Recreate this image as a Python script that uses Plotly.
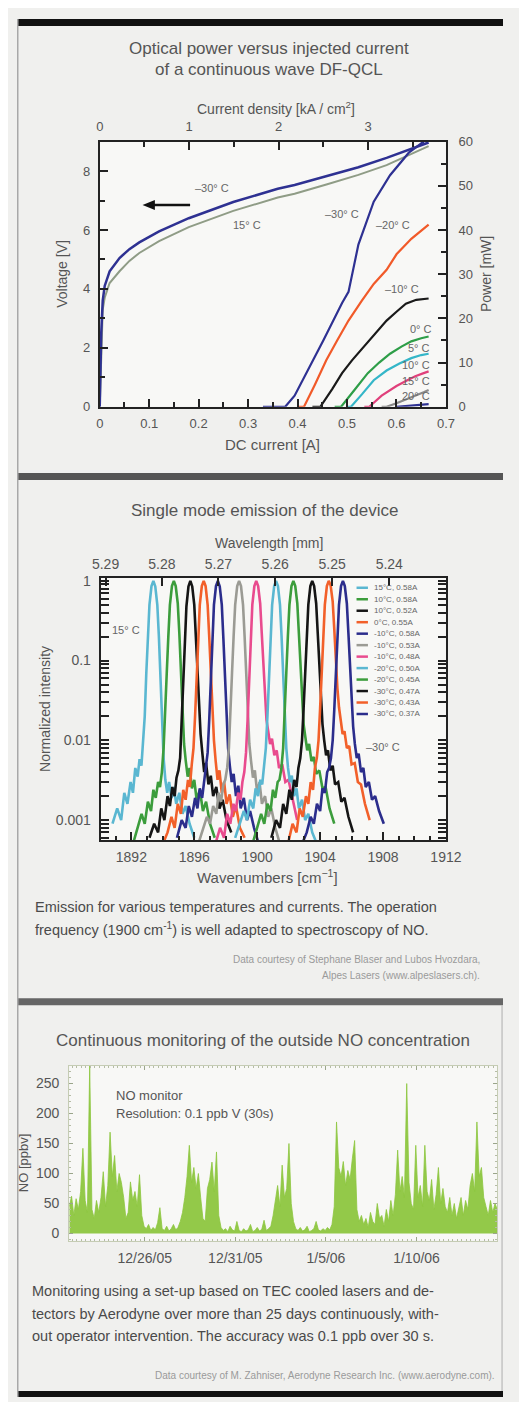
import plotly.graph_objects as go
import pandas as pd

# The page adds an 8 px body margin around the figure; the figure is sized so the
# whole page is 527 x 1410 and all layout positions below are page pixels.
PAGE_OFF = 8
W, H = 527 - 2 * PAGE_OFF, 1410 - 2 * PAGE_OFF
FONT = "Liberation Sans, Arial, Helvetica, sans-serif"
TXT = "#555555"


def px(x):
    return (x - PAGE_OFF) / W


def py(y):
    return 1 - (y - PAGE_OFF) / H


# ---------------- Panel 1 : L-I-V ----------------
iv_current = [0, 0.003, 0.006, 0.01, 0.02, 0.04, 0.06, 0.08, 0.12, 0.18, 0.27, 0.36, 0.394, 0.46, 0.523, 0.58, 0.62, 0.65, 0.665]
iv_volt_m30 = [0, 2.5, 3.6, 4.1, 4.6, 5.05, 5.35, 5.58, 5.95, 6.4, 6.95, 7.4, 7.53, 7.85, 8.13, 8.45, 8.7, 8.9, 8.97]
iv_volt_p15 = [0, 2.2, 3.3, 3.7, 4.2, 4.6, 4.95, 5.22, 5.62, 6.1, 6.65, 7.1, 7.23, 7.55, 7.87, 8.2, 8.5, 8.75, 8.85]

p_m30_I = [0.33, 0.375, 0.394, 0.42, 0.452, 0.49, 0.503, 0.523, 0.554, 0.587, 0.625, 0.655]
p_m30_P = [0, 0, 2.5, 8, 15, 23.5, 26, 36.7, 46.4, 52.4, 57.5, 60]
p_m20_I = [0.40, 0.413, 0.435, 0.458, 0.48, 0.503, 0.53, 0.554, 0.58, 0.60, 0.63, 0.665]
p_m20_P = [0, 0, 5, 10.5, 15, 19.5, 24, 27.8, 31, 34.5, 38, 41.2]
p_m10_I = [0.43, 0.446, 0.47, 0.49, 0.51, 0.535, 0.56, 0.58, 0.60, 0.619, 0.64, 0.665]
p_m10_P = [0, 0, 4, 7.6, 10.5, 13.7, 17, 19.5, 21.5, 23.3, 24.2, 24.5]
p_0_I = [0.475, 0.488, 0.515, 0.542, 0.565, 0.587, 0.61, 0.63, 0.65, 0.665]
p_0_P = [0, 0, 3.8, 7.6, 10, 12, 13.6, 14.8, 15.5, 15.9]
p_5_I = [0.50, 0.508, 0.53, 0.554, 0.58, 0.606, 0.63, 0.65, 0.665]
p_5_P = [0, 0, 2.8, 6, 8.2, 9.8, 11, 11.7, 12]
p_10_I = [0.535, 0.545, 0.57, 0.60, 0.62, 0.638, 0.655, 0.665]
p_10_P = [0, 0, 2.5, 4.7, 5.9, 6.9, 7.6, 8]
p_15_I = [0.57, 0.58, 0.60, 0.619, 0.64, 0.655, 0.665]
p_15_P = [0, 0, 0.8, 1.6, 2.6, 3.3, 3.8]
p_20_I = [0.60, 0.62, 0.64, 0.655, 0.665]
p_20_P = [0, 0.2, 0.4, 0.6, 0.6]

J_PER_A = 5.53  # kA/cm^2 per A (top axis scale)

# ---------------- Panel 2 : spectra ----------------
wl_ticks = [5.29, 5.28, 5.27, 5.26, 5.25, 5.24]
spec_offsets = [-2.6, -2.3, -2.05, -1.85, -1.65, -1.45, -1.3, -1.15, -1.0, -0.88, -0.76, -0.65, -0.55, -0.45,
                -0.35, -0.25, -0.12, 0, 0.12, 0.25, 0.35, 0.45, 0.55, 0.65, 0.76, 0.88, 1.0, 1.15, 1.3, 1.45,
                1.65, 1.85, 2.05, 2.3, 2.6]
spec_centers = [1893.4, 1894.7, 1895.75, 1896.6, 1897.5, 1898.85, 1899.94, 1901.2, 1902.3, 1903.5, 1904.55, 1905.45]
spec_labels = ["15°C, 0.58A", "10°C, 0.58A", "10°C, 0.52A", "0°C, 0.55A", "-10°C, 0.58A", "-10°C, 0.53A",
               "-10°C, 0.48A", "-20°C, 0.50A", "-20°C, 0.45A", "-30°C, 0.47A", "-30°C, 0.43A", "-30°C, 0.37A"]
s01 = [0.0009, 0.0014, 0.001, 0.0022, 0.0016, 0.003, 0.0022, 0.0045, 0.0035, 0.0058, 0.0048, 0.009, 0.02, 0.07, 0.2, 0.5, 0.86, 1,
       0.85, 0.5, 0.2, 0.07, 0.02, 0.006, 0.0032, 0.0022, 0.003, 0.0019, 0.0026, 0.0016, 0.0022, 0.0012, 0.0015, 0.0009, 0.0006]
s02 = [0.0005, 0.0008, 0.0012, 0.0009, 0.0017, 0.0013, 0.0024, 0.0019, 0.003, 0.0026, 0.004, 0.008, 0.02, 0.07, 0.2, 0.5, 0.86, 1,
       0.86, 0.52, 0.22, 0.08, 0.025, 0.009, 0.0055, 0.0035, 0.0045, 0.0025, 0.0032, 0.0018, 0.0024, 0.0013, 0.0017, 0.0009, 0.0006]
s03 = [0.0006, 0.0009, 0.0007, 0.0014, 0.001, 0.002, 0.0015, 0.0026, 0.002, 0.0034, 0.0042, 0.006, 0.018, 0.06, 0.19, 0.48, 0.85, 1,
       0.85, 0.5, 0.2, 0.08, 0.03, 0.012, 0.007, 0.004, 0.0052, 0.0028, 0.0036, 0.002, 0.0026, 0.0014, 0.0018, 0.001, 0.0007]
s04 = [0.0005, 0.0007, 0.0011, 0.0008, 0.0016, 0.0012, 0.0024, 0.0018, 0.0032, 0.0026, 0.005, 0.008, 0.02, 0.07, 0.2, 0.5, 0.86, 1,
       0.86, 0.5, 0.2, 0.07, 0.025, 0.01, 0.0055, 0.0032, 0.0042, 0.0022, 0.003, 0.0016, 0.0021, 0.0011, 0.0015, 0.0008, 0.0006]
s05 = [0.0006, 0.001, 0.0008, 0.0015, 0.0011, 0.0019, 0.0014, 0.0025, 0.0019, 0.003, 0.0045, 0.007, 0.018, 0.065, 0.2, 0.5, 0.86, 1,
       0.85, 0.5, 0.19, 0.07, 0.022, 0.008, 0.0048, 0.003, 0.0038, 0.002, 0.0027, 0.0014, 0.0019, 0.001, 0.0013, 0.0008, 0.0005]
s06 = [0.0005, 0.0008, 0.0011, 0.0009, 0.0015, 0.0012, 0.0022, 0.0017, 0.0028, 0.0032, 0.0045, 0.008, 0.02, 0.07, 0.2, 0.5, 0.86, 1,
       0.86, 0.5, 0.2, 0.07, 0.022, 0.009, 0.0055, 0.0034, 0.0042, 0.0022, 0.003, 0.0016, 0.002, 0.0011, 0.0014, 0.0008, 0.0005]
s07 = [0.0005, 0.0008, 0.0006, 0.0012, 0.0009, 0.0016, 0.0013, 0.0022, 0.0018, 0.003, 0.004, 0.007, 0.018, 0.065, 0.2, 0.5, 0.86, 1,
       0.86, 0.52, 0.22, 0.09, 0.035, 0.018, 0.013, 0.009, 0.0105, 0.0065, 0.0075, 0.0045, 0.005, 0.003, 0.0032, 0.0018, 0.001]
s08 = [0.0006, 0.0009, 0.0013, 0.001, 0.0018, 0.0014, 0.0025, 0.002, 0.0032, 0.0028, 0.0045, 0.008, 0.02, 0.07, 0.2, 0.5, 0.86, 1,
       0.86, 0.5, 0.2, 0.07, 0.022, 0.008, 0.0045, 0.003, 0.0036, 0.002, 0.0025, 0.0014, 0.0018, 0.001, 0.0012, 0.0007, 0.0005]
s09 = [0.0005, 0.0008, 0.0012, 0.0009, 0.0016, 0.0013, 0.0024, 0.0019, 0.003, 0.0032, 0.0045, 0.008, 0.02, 0.07, 0.2, 0.5, 0.86, 1,
       0.86, 0.52, 0.22, 0.09, 0.035, 0.016, 0.011, 0.0075, 0.009, 0.0055, 0.0062, 0.0038, 0.0042, 0.0025, 0.0026, 0.0014, 0.0009]
s10 = [0.0006, 0.001, 0.0008, 0.0016, 0.0012, 0.0024, 0.0018, 0.0032, 0.0026, 0.0045, 0.006, 0.01, 0.025, 0.08, 0.21, 0.5, 0.86, 1,
       0.86, 0.52, 0.22, 0.09, 0.035, 0.016, 0.01, 0.0065, 0.0075, 0.0042, 0.0048, 0.0028, 0.003, 0.0017, 0.0019, 0.0011, 0.0007]
s11 = [0.0005, 0.0009, 0.0007, 0.0014, 0.0011, 0.002, 0.0016, 0.003, 0.0024, 0.0045, 0.006, 0.01, 0.025, 0.08, 0.21, 0.5, 0.86, 1,
       0.87, 0.55, 0.25, 0.1, 0.045, 0.026, 0.018, 0.012, 0.013, 0.008, 0.0085, 0.005, 0.0052, 0.003, 0.0028, 0.0016, 0.001]
s12 = [0.0005, 0.0007, 0.0011, 0.0009, 0.0016, 0.0013, 0.0025, 0.0022, 0.004, 0.0045, 0.006, 0.01, 0.024, 0.075, 0.2, 0.5, 0.86, 1,
       0.86, 0.52, 0.22, 0.09, 0.035, 0.015, 0.009, 0.006, 0.0068, 0.004, 0.0045, 0.0026, 0.003, 0.0018, 0.002, 0.0013, 0.0009]
spec_values = [s01, s02, s03, s04, s05, s06, s07, s08, s09, s10, s11, s12]

# ---------------- Panel 3 : NO monitoring ----------------
no_start = "2005-12-21 20:00"
no_step = "3h"
no_ppbv = [
    45, 62, 30, 58, 40, 70, 142, 55, 35,
    280,
    40, 25, 55, 35, 60, 103, 45,
    80, 169, 95, 130, 70, 100, 85, 60,
    25, 35,
    86, 55, 70, 45, 98,
    30, 12, 8, 15, 5, 10, 6, 18, 43, 8, 5, 12, 4, 8, 15, 6, 10, 20, 35,
    60, 95, 147, 85, 110, 75, 100, 60,
    25, 20,
    75, 90, 119, 70, 136,
    30, 10, 5, 8, 3, 12, 6, 4, 20, 5, 3, 8, 4, 6, 15, 3, 5, 10, 4, 7, 22, 5, 8, 12, 30,
    55, 80, 45, 114, 60, 75, 150, 50,
    20, 8, 5, 10, 4, 6, 12, 3, 5, 8, 20, 6, 4, 8, 5, 10, 6, 15,
    45, 186, 110, 95, 120, 80, 105, 90, 125, 155,
    40, 20, 30, 15, 25, 10, 35, 20, 15, 50, 25, 30, 12, 40, 20, 55, 30, 65, 139,
    70, 95, 60, 250, 85, 50, 40,
    147, 60, 80, 45, 147, 70, 55, 90, 40, 65, 110, 50, 75, 45,
    35, 60, 30, 50, 25, 45, 60, 30, 55, 40,
    80, 100, 70, 186, 95, 110, 60,
    45, 30, 55, 35, 50, 40,
]
no_times = pd.date_range(no_start, periods=len(no_ppbv), freq=no_step)

# ---------------- Styles ----------------
NAVY = "#2e3192"
SPEC_COLORS = ["#5ab7d1", "#3c9d3c", "#151515", "#f2602a", "#2b2d8c", "#9b9b94",
               "#e94b8e", "#5ab7d1", "#3c9d3c", "#151515", "#f2602a", "#2b2d8c"]

fig = go.Figure()

# Panel 1 traces (the -30 C voltage curve is drawn through the top current-density axis)
fig.add_trace(go.Scatter(x=iv_current, y=iv_volt_p15, mode="lines",
                         line=dict(color="#8f9c86", width=2), xaxis="x", yaxis="y", showlegend=False))
power_sets = [
    (p_20_I, p_20_P, NAVY), (p_15_I, p_15_P, "#8a8a8a"), (p_10_I, p_10_P, "#e0407b"),
    (p_5_I, p_5_P, "#34b6c8"), (p_0_I, p_0_P, "#2e9e48"), (p_m10_I, p_m10_P, "#1a1a1a"),
    (p_m20_I, p_m20_P, "#f15a29"), (p_m30_I, p_m30_P, NAVY),
]
for xi, yi, col in power_sets:
    fig.add_trace(go.Scatter(x=xi, y=yi, mode="lines", line=dict(color=col, width=2.2),
                             xaxis="x", yaxis="y2", showlegend=False))
fig.add_trace(go.Scatter(x=[i * J_PER_A for i in iv_current], y=iv_volt_m30, mode="lines",
                         line=dict(color=NAVY, width=2.5), xaxis="x2", yaxis="y", showlegend=False))

# Panel 2 traces (the last spectrum is drawn through the top axis, same wavenumber scale)
n_spec = len(spec_centers)
for k, (c, vals, col) in enumerate(zip(spec_centers, spec_values, SPEC_COLORS)):
    fig.add_trace(go.Scatter(x=[c + o for o in spec_offsets], y=vals, mode="lines",
                             line=dict(color=col, width=2.6),
                             xaxis="x4" if k == n_spec - 1 else "x3", yaxis="y3", showlegend=False))

# Panel 3 trace
fig.add_trace(go.Scatter(x=no_times, y=no_ppbv, mode="lines", fill="tozeroy",
                         line=dict(color="#8dc63f", width=0.8), fillcolor="rgba(141,198,63,0.95)",
                         xaxis="x5", yaxis="y5", showlegend=False))

AX = "#222222"
tickfont = dict(family=FONT, size=13, color=TXT)
tickfont2 = dict(family=FONT, size=14, color=TXT)

common = dict(showgrid=False, zeroline=False, showline=True, linecolor=AX, linewidth=2,
              ticks="inside", tickcolor=AX, tickwidth=1.5, ticklen=8)

layout_axes = dict(
    xaxis=dict(domain=[px(95), px(459)], range=[0, 0.7], dtick=0.1, tick0=0, anchor="y",
               tickfont=tickfont, ticklabelstandoff=4,
               minor=dict(dtick=0.05, ticks="inside", ticklen=5, tickcolor=AX), **common),
    xaxis2=dict(overlaying="x", side="top", range=[0, 0.7 * J_PER_A], dtick=1, tick0=0, anchor="y",
                tickfont=tickfont, ticklabelstandoff=3,
                minor=dict(dtick=0.5, ticks="inside", ticklen=5, tickcolor=AX), **common),
    yaxis=dict(domain=[py(404), py(136)], range=[0, 9], dtick=2, tick0=0, anchor="x",
               tickfont=tickfont, ticklabelstandoff=5,
               minor=dict(dtick=1, ticks="inside", ticklen=5, tickcolor=AX), **common),
    yaxis2=dict(overlaying="y", side="right", range=[0, 60], dtick=10, tick0=0, anchor="x",
                tickfont=tickfont, ticklabelstandoff=8,
                minor=dict(dtick=5, ticks="inside", ticklen=5, tickcolor=AX), **common),
    xaxis3=dict(domain=[px(96), px(459)], range=[1890.05, 1912], dtick=4, tick0=1892, anchor="y3",
                tickfont=tickfont2, ticklabelstandoff=3,
                minor=dict(dtick=1, ticks="inside", ticklen=4, tickcolor=AX), **common),
    xaxis4=dict(overlaying="x3", side="top", range=[1890.05, 1912], anchor="y3",
                tickmode="array", tickvals=[1e4 / w for w in wl_ticks], ticktext=[f"{w:.2f}" for w in wl_ticks],
                tickfont=tickfont2, ticklabelstandoff=1, **common),
    yaxis3=dict(domain=[py(842), py(577)], type="log", range=[-3.25, 0.037], dtick=1, anchor="x3",
                tickfont=tickfont2, ticklabelstandoff=5, mirror="allticks",
                minor=dict(dtick="D1", ticks="inside", ticklen=4, tickcolor=AX), **common),
    xaxis5=dict(domain=[px(63), px(513)], type="date", range=[no_times[0], no_times[-1]], anchor="y5",
                tick0="2005-12-26", dtick=5 * 86400000, tickformat="%-m/%-d/%y",
                tickfont=tickfont2, ticklabelstandoff=4, mirror="allticks",
                showgrid=False, zeroline=False, showline=True, linecolor="#c5ccb4", linewidth=1.2,
                ticks="inside", tickcolor="#9aa58a", ticklen=4, tickwidth=1,
                minor=dict(dtick=21600000, ticks="inside", ticklen=2, tickcolor="#b5bca5")),
    yaxis5=dict(domain=[py(1247), py(1070)], range=[-12, 280], dtick=50, tick0=0, anchor="x5",
                tickfont=tickfont2, ticklabelstandoff=6, mirror="allticks",
                showgrid=False, zeroline=False, showline=True, linecolor="#c5ccb4", linewidth=1.2,
                ticks="inside", tickcolor="#9aa58a", ticklen=4, tickwidth=1,
                minor=dict(dtick=10, ticks="inside", ticklen=2, tickcolor="#b5bca5")),
)

ann = []


def text(x, y, s, size=14, color=TXT, xanchor="center", angle=0):
    ann.append(dict(x=px(x), y=py(y), xref="paper", yref="paper", text=s, showarrow=False,
                    xanchor=xanchor, yanchor="middle", textangle=angle,
                    font=dict(family=FONT, size=size, color=color)))


shapes = []

# Panel 1 text
text(273, 42, "Optical power versus injected current", 17)
text(273, 63, "of a continuous wave DF-QCL", 17)
text(280, 102, "Current density [kA / cm<sup>2</sup>]", 14)
text(56, 270, "Voltage [V]", 14, angle=-90)
text(501, 270, "Power [mW]", 14, angle=-90)
text(277, 442, "DC current [A]", 15)
lab1 = [(213, 183, "–30° C"), (250, 220, "15° C"), (350, 209, "–30° C"), (403, 220, "–20° C"),
        (413, 285, "–10° C"), (433, 325, "0° C"), (431, 345, "5° C"), (428, 362, "10° C"),
        (428, 378, "15° C"), (428, 393, "20° C")]
for x, y, s in lab1:
    text(x, y, s, 11, color="#666666")
# arrow pointing to the voltage axis
shapes.append(dict(type="line", xref="paper", yref="paper", x0=px(190), x1=px(150), y0=py(200), y1=py(200),
                   line=dict(color="#111111", width=2.5)))
shapes.append(dict(type="path", xref="paper", yref="paper",
                   path=f"M {px(140)},{py(200)} L {px(153)},{py(195)} L {px(153)},{py(205)} Z",
                   fillcolor="#111111", line=dict(width=0)))

# Panel 2 text
text(268, 509, "Single mode emission of the device", 17)
text(273, 542, "Wavelength [mm]", 14)
text(38, 710, "Normalized intensity", 14, angle=-90)
text(271, 879, "Wavenumbers [cm<sup>−1</sup>]", 15)
text(123, 630, "15° C", 11, color="#666666")
text(393, 748, "–30° C", 11, color="#666666")
text(25, 910, "Emission for various temperatures and currents. The operation", 14.5, color="#4a4a4a", xanchor="left")
text(25, 932, "frequency (1900 cm<sup>-1</sup>) is well adapted to spectroscopy of NO.", 14.5, color="#4a4a4a", xanchor="left")
text(497, 963, "Data courtesy of Stephane Blaser and Lubos Hvozdara,", 10, color="#9a9a9a", xanchor="right")
text(497, 979, "Alpes Lasers (www.alpeslasers.ch).", 10, color="#9a9a9a", xanchor="right")

for i, (lab, col) in enumerate(zip(spec_labels, SPEC_COLORS)):
    yy = 587 + i * 11.6
    shapes.append(dict(type="line", xref="paper", yref="paper", x0=px(365), x1=px(377),
                       y0=py(yy), y1=py(yy), line=dict(color=col, width=2.5)))
    text(381, yy, lab, 8, color="#666666", xanchor="left")

# Panel 3 text
text(267, 1045, "Continuous monitoring of the outside NO concentration", 17)
text(15, 1168, "NO [ppbv]", 13, angle=-90)
text(110, 1100, "NO monitor", 13, xanchor="left")
text(110, 1118, "Resolution: 0.1 ppb V (30s)", 13, xanchor="left")
text(22, 1298, "Monitoring using a set-up based on TEC cooled lasers and de-", 14.5, color="#4a4a4a", xanchor="left")
text(22, 1321, "tectors by Aerodyne over more than 25 days continuously, with-", 14.5, color="#4a4a4a", xanchor="left")
text(22, 1343, "out operator intervention. The accuracy was 0.1 ppb over 30 s.", 14.5, color="#4a4a4a", xanchor="left")
text(513, 1383, "Data courtesy of M. Zahniser, Aerodyne Research Inc. (www.aerodyne.com).", 10, color="#9a9a9a", xanchor="right")

# Page decoration (separator bars and frame lines)
for y0, y1, col in [(12, 19, "#111111"), (471, 478, "#555555"), (1002, 1009, "#666666"), (1399, 1405, "#111111")]:
    shapes.append(dict(type="rect", xref="paper", yref="paper", x0=px(8), x1=1, y0=py(y1), y1=py(y0),
                       fillcolor=col, line=dict(width=0), layer="above"))
shapes.append(dict(type="line", xref="paper", yref="paper", x0=px(8.8), x1=px(8.8), y0=py(1405), y1=py(12),
                   line=dict(color="#a8a8a8", width=1.5)))
shapes.append(dict(type="line", xref="paper", yref="paper", x0=px(518), x1=px(518), y0=py(1399), y1=py(1009),
                   line=dict(color="#b8b8b8", width=1.2)))

fig.update_layout(
    width=W, height=H, autosize=False, margin=dict(l=0, r=0, t=0, b=0),
    paper_bgcolor="#f0f0ee", plot_bgcolor="#f8f8f6",
    font=dict(family=FONT, color=TXT), showlegend=False,
    annotations=ann, shapes=shapes, **layout_axes,
)

fig.write_html("out.html", config={"displayModeBar": False})
